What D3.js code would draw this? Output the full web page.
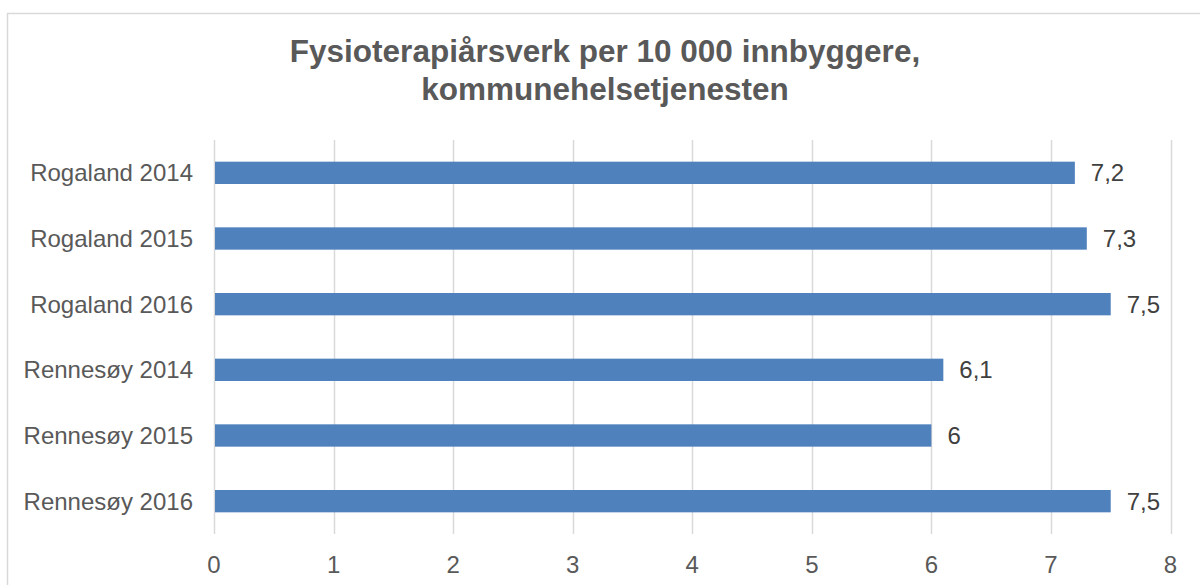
<!DOCTYPE html>
<html><head><meta charset="utf-8">
<script src="https://cdn.jsdelivr.net/npm/d3@7"></script>
<style>body{margin:0;background:#fff}svg{display:block}text{font-family:"Liberation Sans",Arial,sans-serif}</style>
</head><body><svg id="c" width="1200" height="585"></svg>
<script>
const categories = ["Rogaland 2014","Rogaland 2015","Rogaland 2016","Rennesøy 2014","Rennesøy 2015","Rennesøy 2016"];
const values = [7.2, 7.3, 7.5, 6.1, 6, 7.5];
const valueLabels = ["7,2","7,3","7,5","6,1","6","7,5"];
const xTicks = [0,1,2,3,4,5,6,7,8];
const titleLines = ["Fysioterapiårsverk per 10 000 innbyggere,", "kommunehelsetjenesten"];

const svg = d3.select("#c");
svg.append("rect").attr("x",7.5).attr("y",13.5).attr("width",1200).attr("height",600)
  .attr("fill","#fff").attr("stroke","#d9d9d9").attr("stroke-width",1.5);

const x = d3.scaleLinear().domain([0,8]).range([214,1170.5]);
const y = d3.scaleBand().domain(categories).range([140,534]).paddingInner(0.66).paddingOuter(0.33);

const g = svg.append("g");
g.selectAll("line.grid").data(xTicks).join("line").attr("class","grid")
  .attr("x1",d=>Math.round(x(d))+0.5).attr("x2",d=>Math.round(x(d))+0.5)
  .attr("y1",140).attr("y2",534).attr("stroke","#d9d9d9").attr("stroke-width",1.5);

g.selectAll("rect.bar").data(values).join("rect").attr("class","bar")
  .attr("x",x(0)+1).attr("y",(d,i)=>y(categories[i]))
  .attr("width",d=>x(d)-x(0)-1).attr("height",y.bandwidth())
  .attr("fill","#4f81bd");

g.selectAll("text.val").data(values).join("text").attr("class","val")
  .attr("x",d=>x(d)+16).attr("y",(d,i)=>y(categories[i])+y.bandwidth()/2)
  .attr("dy","0.35em").attr("font-size",24).attr("fill","#404040")
  .text((d,i)=>valueLabels[i]);

g.selectAll("text.cat").data(categories).join("text").attr("class","cat")
  .attr("x",193).attr("y",d=>y(d)+y.bandwidth()/2).attr("dy","0.35em")
  .attr("text-anchor","end").attr("font-size",24).attr("fill","#595959").text(d=>d);

g.selectAll("text.tick").data(xTicks).join("text").attr("class","tick")
  .attr("x",d=>x(d)).attr("y",565).attr("dy","0.35em").attr("text-anchor","middle")
  .attr("font-size",24).attr("fill","#595959").text(d=>d);

svg.selectAll("text.title").data(titleLines).join("text").attr("class","title")
  .attr("x",605).attr("y",(d,i)=>62+i*38).attr("text-anchor","middle")
  .attr("font-size",31.5).attr("font-weight","bold").attr("fill","#595959").text(d=>d);
</script></body></html>
